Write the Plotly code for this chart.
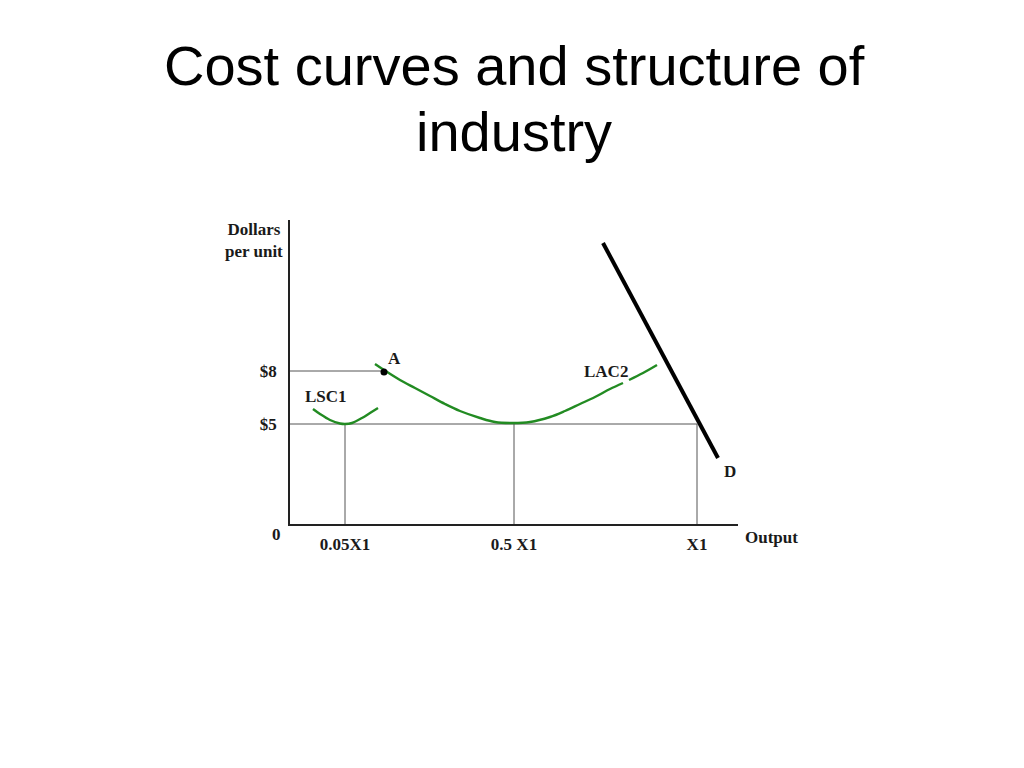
import plotly.graph_objects as go

# schematic units: x = output, y = dollars per unit (origin at the axes corner)
lsc1_x = [23, 30, 40, 50, 55, 62, 72, 80, 88]
lsc1_y = [115, 110, 104, 100.5, 100, 101, 106, 111, 116]

lac2_x = [85, 94, 110, 125, 140, 155, 170, 190, 205, 223, 240, 260, 275, 290, 305, 320, 333, None, 339, 353, 367]
lac2_y = [160, 154, 144, 136, 128, 120, 113, 106, 102, 101, 102, 107, 113, 120, 127, 135, 141, None, 144, 151, 159]

demand_x = [313, 428]
demand_y = [281, 66]

point_a = (94, 152)

price_vals = [100, 153]
price_text = ["$5", "$8"]
output_vals = [55, 224, 407]
output_text = ["0.05X1", "0.5 X1", "X1"]

serif = dict(family="Liberation Serif", size=17, color="#1a1a1a")
grey = "#555555"
green = "#228b22"

fig = go.Figure()

# reference lines
fig.add_trace(go.Scatter(x=[0, point_a[0]], y=[price_vals[1], price_vals[1]], mode="lines",
                         line=dict(color=grey, width=1), hoverinfo="skip"))
fig.add_trace(go.Scatter(x=[0, output_vals[2]], y=[price_vals[0], price_vals[0]], mode="lines",
                         line=dict(color=grey, width=1), hoverinfo="skip"))
for xv in output_vals:
    fig.add_trace(go.Scatter(x=[xv, xv], y=[0, price_vals[0]], mode="lines",
                             line=dict(color=grey, width=1), hoverinfo="skip"))

# cost curves
fig.add_trace(go.Scatter(x=lsc1_x, y=lsc1_y, mode="lines", line=dict(color=green, width=2.4, shape="spline")))
fig.add_trace(go.Scatter(x=lac2_x, y=lac2_y, mode="lines", line=dict(color=green, width=2.4, shape="spline"),
                         connectgaps=False))

# demand
fig.add_trace(go.Scatter(x=demand_x, y=demand_y, mode="lines", line=dict(color="black", width=4)))

# point A
fig.add_trace(go.Scatter(x=[point_a[0]], y=[point_a[1]], mode="markers",
                         marker=dict(color="black", size=7)))

labels = [
    ("LSC1", 36, 128),
    ("A", 104, 166),
    ("LAC2", 316, 153),
    ("D", 440, 53),
]
for text, lx, ly in labels:
    fig.add_annotation(x=lx, y=ly, text="<b>%s</b>" % text, showarrow=False, font=serif)

outside = [
    ("<b>0</b>", -0.031, -0.036),
    ("<b>Output</b>", 1.074, -0.043),
    ("<b>Dollars<br>per unit</b>", -0.080, 0.931),
]
for text, px, py in outside:
    fig.add_annotation(x=px, y=py, xref="paper", yref="paper", text=text, showarrow=False,
                       font=serif, align="center", xanchor="center", yanchor="middle")

# title, two lines
title_font = dict(family="Liberation Sans", size=56, color="black")
fig.add_annotation(x=0.5, y=1.507, xref="paper", yref="paper", text="Cost curves and structure of",
                   showarrow=False, font=title_font, xanchor="center", yanchor="middle")
fig.add_annotation(x=0.5, y=1.290, xref="paper", yref="paper", text="industry",
                   showarrow=False, font=title_font, xanchor="center", yanchor="middle")

fig.update_xaxes(range=[0, 448], showgrid=False, zeroline=False, showline=True, linecolor="#222222",
                 linewidth=1.5, tickvals=output_vals, ticktext=["<b>%s</b>" % t for t in output_text],
                 ticks="", tickfont=serif, ticklabelstandoff=4)
fig.update_yaxes(range=[0, 304], showgrid=False, zeroline=False, showline=True, linecolor="#222222",
                 linewidth=1.5, tickvals=price_vals, ticktext=["<b>%s</b>" % t for t in price_text],
                 ticks="", tickfont=serif, ticklabelstandoff=8)

fig.update_layout(
    width=1024, height=768, autosize=False,
    margin=dict(l=282, r=294, t=212, b=252),
    plot_bgcolor="white", paper_bgcolor="white",
    showlegend=False,
)

fig.write_html("out.html")
